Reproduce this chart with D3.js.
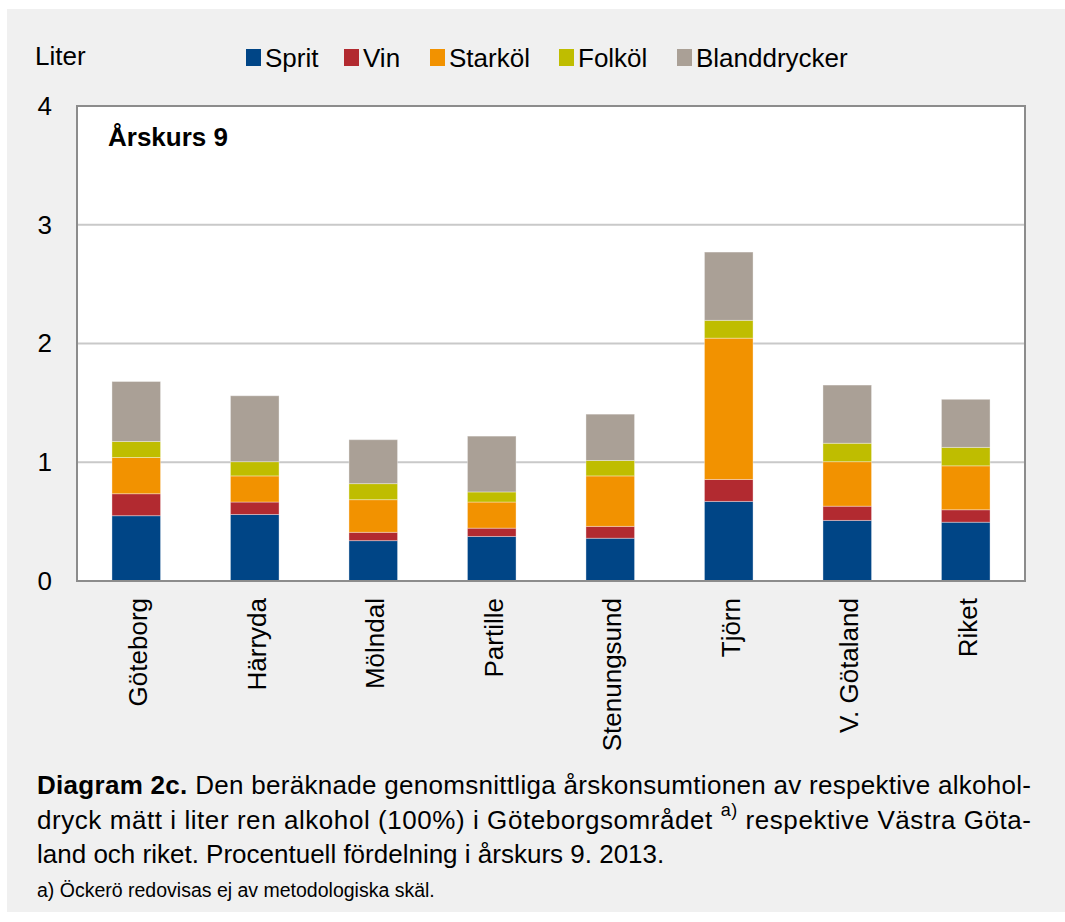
<!DOCTYPE html>
<html>
<head>
<meta charset="utf-8">
<script src="https://cdn.jsdelivr.net/npm/d3@7"></script>
<style>
  body { margin: 0; background: #fff; }
  svg text { font-family: "Liberation Sans", Arial, sans-serif; fill: #000; }
</style>
</head>
<body>
<svg id="chart" width="1065" height="922"></svg>
<script>
// data
const categories = ["Göteborg", "Härryda", "Mölndal", "Partille", "Stenungsund", "Tjörn", "V. Götaland", "Riket"];
const seriesNames = ["Sprit", "Vin", "Starköl", "Folköl", "Blanddrycker"];
const sprit = [0.55, 0.56, 0.34, 0.375, 0.36, 0.67, 0.51, 0.495];
const vin = [0.185, 0.105, 0.07, 0.07, 0.10, 0.185, 0.12, 0.105];
const starkol = [0.305, 0.22, 0.275, 0.22, 0.425, 1.19, 0.375, 0.37];
const folkol = [0.135, 0.12, 0.135, 0.085, 0.13, 0.15, 0.155, 0.155];
const bland = [0.505, 0.555, 0.37, 0.47, 0.39, 0.575, 0.49, 0.405];
const yTicks = [0, 1, 2, 3, 4];
const colors = ["#004586", "#b22a30", "#f29200", "#bfbd00", "#aaa096"];

const svg = d3.select("#chart");

// grey panel
svg.append("rect")
  .attr("x", 7).attr("y", 9)
  .attr("width", 1058).attr("height", 903)
  .attr("fill", "#f0f0f0");

const margin = { left: 77, top: 106, right: 1025, bottom: 581 };

const x = d3.scaleBand()
  .domain(categories)
  .range([margin.left, margin.right])
  .padding(0);

const y = d3.scaleLinear()
  .domain([0, 4])
  .range([margin.bottom, margin.top]);

// plot area
svg.append("rect")
  .attr("x", margin.left).attr("y", margin.top)
  .attr("width", margin.right - margin.left)
  .attr("height", margin.bottom - margin.top)
  .attr("fill", "#fff");

// gridlines
svg.append("g")
  .selectAll("line")
  .data(yTicks.filter(d => d > 0 && d < 4))
  .enter()
  .append("line")
  .attr("x1", margin.left).attr("x2", margin.right)
  .attr("y1", d => y(d)).attr("y2", d => y(d))
  .attr("stroke", "#c9c9c9")
  .attr("stroke-width", 2);

// stack the series
const rows = categories.map((c, i) => ({
  cat: c,
  Sprit: sprit[i], Vin: vin[i], "Starköl": starkol[i], "Folköl": folkol[i], Blanddrycker: bland[i]
}));
const stacked = d3.stack().keys(seriesNames)(rows);

const barW = x.bandwidth() * 0.41;

svg.append("g")
  .selectAll("g")
  .data(stacked)
  .enter()
  .append("g")
  .attr("fill", (d, i) => colors[i])
  .selectAll("rect")
  .data(d => d)
  .enter()
  .append("rect")
  .attr("x", d => x(d.data.cat) + (x.bandwidth() - barW) / 2)
  .attr("y", d => y(d[1]))
  .attr("width", barW)
  .attr("height", d => y(d[0]) - y(d[1]))
  .attr("stroke", "rgba(255,255,255,0.35)")
  .attr("stroke-width", 1);

// frame
svg.append("rect")
  .attr("x", margin.left).attr("y", margin.top)
  .attr("width", margin.right - margin.left)
  .attr("height", margin.bottom - margin.top)
  .attr("fill", "none")
  .attr("stroke", "#8c8c8c")
  .attr("stroke-width", 2);

// y axis labels
const yAxis = svg.append("g")
  .attr("transform", "translate(" + margin.left + ",0)")
  .call(d3.axisLeft(y).tickValues(yTicks).tickSize(0).tickPadding(25).tickFormat(d3.format("d")));
yAxis.select(".domain").remove();
yAxis.selectAll("text")
  .style("font-size", "26px")
  .attr("fill", "#000");

// x axis labels
const xAxis = svg.append("g")
  .attr("transform", "translate(0," + margin.bottom + ")")
  .call(d3.axisBottom(x).tickSize(0));
xAxis.select(".domain").remove();
xAxis.selectAll("text")
  .attr("transform", "translate(2,17)rotate(-90)")
  .attr("x", 0).attr("y", 0).attr("dy", "0.35em")
  .style("text-anchor", "end")
  .style("font-size", "26px")
  .attr("fill", "#000");

// texts
svg.append("text").attr("x", 35).attr("y", 65)
  .style("font-size", "26px").text("Liter");

svg.append("text").attr("x", 108).attr("y", 146)
  .style("font-size", "26px").style("font-weight", "bold").text("Årskurs 9");

// legend
const legendX = [246, 344, 430, 559, 677];
const legend = svg.append("g")
  .selectAll("g")
  .data(seriesNames)
  .enter()
  .append("g")
  .attr("transform", (d, i) => "translate(" + legendX[i] + ",0)");
legend.append("rect")
  .attr("x", 0).attr("y", 49)
  .attr("width", 15).attr("height", 17)
  .attr("fill", (d, i) => colors[i]);
legend.append("text")
  .attr("x", 19).attr("y", 67)
  .style("font-size", "26px")
  .text(d => d);

// caption
const cap = svg.append("text").attr("x", 37).attr("y", 794).style("font-size", "26px")
  .attr("textLength", 994).attr("lengthAdjust", "spacing");
cap.append("tspan").style("font-weight", "bold").text("Diagram 2c.");
cap.append("tspan").text(" Den beräknade genomsnittliga årskonsumtionen av respektive alkohol-");

const cap2 = svg.append("text").attr("x", 37).attr("y", 829).style("font-size", "26px")
  .attr("textLength", 994).attr("lengthAdjust", "spacing");
cap2.append("tspan").text("dryck mätt i liter ren alkohol (100%) i Göteborgsområdet ");
cap2.append("tspan").attr("dy", -13).style("font-size", "18px").text("a)");
cap2.append("tspan").attr("dy", 13).text(" respektive Västra Göta-");

svg.append("text").attr("x", 37).attr("y", 863).style("font-size", "26px")
  .text("land och riket. Procentuell fördelning i årskurs 9. 2013.");

svg.append("text").attr("x", 37).attr("y", 897).style("font-size", "19.5px")
  .text("a) Öckerö redovisas ej av metodologiska skäl.");
</script>
</body>
</html>
